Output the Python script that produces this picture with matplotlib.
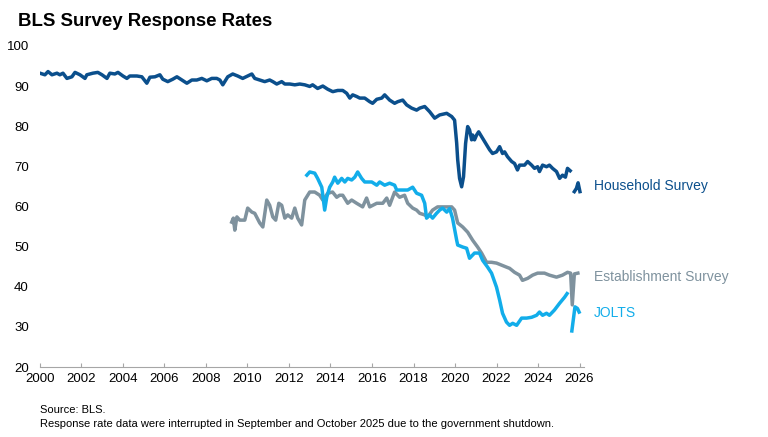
import matplotlib.pyplot as plt
import numpy as np

plt.rcParams["font.family"] = ["Liberation Sans", "DejaVu Sans"]

# Household Survey (NaN = shutdown gap)
hh_years = [2000.0, 2000.24, 2000.39, 2000.58, 2000.82, 2000.96, 2001.11, 2001.3, 2001.54, 2001.69,
            2001.93, 2002.17, 2002.26, 2002.55, 2002.79, 2002.99, 2003.23, 2003.37, 2003.61, 2003.76,
            2004.0, 2004.19, 2004.33, 2004.67, 2004.91, 2005.15, 2005.3, 2005.54, 2005.78, 2005.92,
            2006.16, 2006.4, 2006.6, 2006.84, 2007.08, 2007.32, 2007.56, 2007.8, 2008.04, 2008.28,
            2008.52, 2008.67, 2008.81, 2009.05, 2009.29, 2009.53, 2009.77, 2010.01, 2010.21, 2010.35,
            2010.59, 2010.83, 2011.07, 2011.22, 2011.41, 2011.65, 2011.8, 2012.04, 2012.28, 2012.52,
            2012.76, 2013.0, 2013.14, 2013.38, 2013.63, 2013.87, 2014.11, 2014.35, 2014.59, 2014.78,
            2014.93, 2015.07, 2015.26, 2015.41, 2015.65, 2015.89, 2016.03, 2016.23, 2016.47, 2016.61,
            2016.85, 2017.09, 2017.24, 2017.48, 2017.67, 2017.91, 2018.15, 2018.3, 2018.54, 2018.78,
            2019.02, 2019.26, 2019.6, 2019.84, 2019.98, 2020.08, 2020.13, 2020.22, 2020.32, 2020.41,
            2020.51, 2020.61, 2020.7, 2020.8, 2020.85, 2020.94, 2021.04, 2021.14, 2021.28, 2021.43,
            2021.52, 2021.67, 2021.81, 2022.0, 2022.15, 2022.29, 2022.39, 2022.53, 2022.73, 2022.87,
            2023.01, 2023.11, 2023.35, 2023.5, 2023.69, 2023.83, 2023.98, 2024.07, 2024.22, 2024.41,
            2024.55, 2024.7, 2024.89, 2025.04, 2025.18, 2025.32, 2025.42, 2025.55, 2025.65,
            2025.75, 2025.85, 2025.93, 2026.02]
hh_values = [93.2, 92.8, 93.6, 92.8, 93.2, 92.8, 93.2, 91.9, 92.3, 93.4,
             92.8, 91.9, 92.8, 93.2, 93.4, 92.8, 91.9, 93.2, 93.0, 93.4,
             92.5, 91.9, 92.5, 92.5, 92.3, 90.7, 92.2, 92.3, 92.8, 91.7,
             91.1, 91.7, 92.3, 91.5, 90.7, 91.5, 91.5, 91.9, 91.3, 91.9,
             91.9, 91.5, 90.3, 92.3, 93.0, 92.5, 91.9, 92.5, 93.0, 91.9,
             91.5, 91.1, 91.5, 91.1, 90.5, 91.1, 90.5, 90.5, 90.3, 90.5,
             90.3, 89.9, 90.3, 89.4, 90.0, 89.2, 88.6, 88.9, 88.9, 88.2,
             87.0, 87.8, 87.4, 87.0, 87.0, 86.1, 85.7, 86.7, 87.0, 87.8,
             86.5, 85.7, 86.1, 86.5, 85.3, 84.5, 84.0, 84.5, 84.9, 83.6,
             82.0, 82.8, 83.2, 82.4, 81.5, 75.8, 71.6, 67.0, 64.9, 67.4,
             75.7, 79.9, 79.1, 76.6, 77.8, 76.6, 77.8, 78.6, 77.4, 76.1,
             75.3, 74.1, 73.2, 73.6, 74.9, 73.2, 73.6, 72.4, 71.2, 70.7,
             69.1, 70.3, 70.3, 71.2, 70.3, 69.5, 69.9, 68.7, 70.3, 69.9,
             70.3, 69.5, 68.7, 67.0, 67.8, 67.3, 69.5, 68.9, np.nan,
             63.7, 64.5, 65.9, 63.7]

# Establishment Survey
es_years = [2009.24, 2009.32, 2009.39, 2009.49, 2009.63, 2009.87, 2010.01, 2010.21, 2010.35, 2010.59,
            2010.74, 2010.93, 2011.07, 2011.22, 2011.36, 2011.51, 2011.65, 2011.8, 2011.94, 2012.13,
            2012.28, 2012.42, 2012.61, 2012.76, 2013.0, 2013.24, 2013.48, 2013.63, 2013.87, 2014.1,
            2014.3, 2014.44, 2014.59, 2014.83, 2015.02, 2015.26, 2015.55, 2015.74, 2015.89, 2016.23,
            2016.52, 2016.71, 2016.85, 2017.09, 2017.33, 2017.57, 2017.72, 2017.96, 2018.15, 2018.3,
            2018.54, 2018.68, 2018.92, 2019.16, 2019.5, 2019.84, 2019.98, 2020.13, 2020.37, 2020.61,
            2020.85, 2021.09, 2021.28, 2021.52, 2021.76, 2022.0, 2022.24, 2022.48, 2022.63, 2022.87,
            2023.11, 2023.25, 2023.5, 2023.74, 2023.98, 2024.31, 2024.55, 2024.89, 2025.18, 2025.42,
            2025.57, 2025.65, 2025.75, 2025.92]
es_values = [56.1, 57.1, 54.1, 57.4, 56.6, 56.6, 59.6, 58.6, 58.3, 55.9,
             54.9, 61.6, 60.3, 57.4, 56.6, 60.8, 60.3, 57.1, 57.9, 57.1,
             59.6, 57.1, 55.4, 61.6, 63.6, 63.6, 62.8, 61.6, 63.3, 63.6,
             62.3, 62.8, 62.8, 60.8, 61.6, 60.8, 59.9, 62.1, 59.9, 60.8,
             60.8, 62.1, 60.3, 63.6, 62.3, 62.8, 60.8, 59.6, 59.1, 58.3,
             57.9, 57.4, 59.1, 59.9, 59.9, 59.9, 59.1, 55.9, 54.9, 53.6,
             51.6, 49.9, 48.4, 46.1, 46.1, 45.9, 45.4, 44.9, 44.6, 43.6,
             42.9, 41.6, 42.1, 42.9, 43.4, 43.4, 42.9, 42.4, 42.9, 43.6,
             43.4, 35.5, 43.2, 43.4]

# JOLTS
jo_years = [2012.86, 2013.0, 2013.24, 2013.38, 2013.58, 2013.72, 2013.82, 2013.96, 2014.11, 2014.2,
            2014.35, 2014.54, 2014.69, 2014.83, 2015.02, 2015.17, 2015.31, 2015.5, 2015.65, 2015.99,
            2016.23, 2016.37, 2016.61, 2016.85, 2017.09, 2017.19, 2017.48, 2017.72, 2017.96, 2018.15,
            2018.39, 2018.54, 2018.63, 2018.78, 2018.92, 2019.11, 2019.26, 2019.4, 2019.6, 2019.74,
            2019.88, 2020.08, 2020.13, 2020.37, 2020.56, 2020.7, 2020.94, 2021.18, 2021.33, 2021.57,
            2021.76, 2022.0, 2022.15, 2022.29, 2022.48, 2022.63, 2022.78, 2022.97, 2023.21, 2023.45,
            2023.69, 2023.93, 2024.07, 2024.22, 2024.41, 2024.55, 2024.79, 2025.04, 2025.28, 2025.4,
            2025.5, 2025.63, 2025.78, 2025.9, 2025.98]
jo_values = [67.8, 68.6, 68.3, 67.0, 64.8, 59.1, 62.3, 64.8, 66.1, 67.3,
             65.8, 67.0, 66.1, 67.0, 66.6, 67.3, 68.6, 67.0, 66.1, 66.1,
             65.3, 66.1, 65.3, 65.8, 65.3, 64.1, 64.1, 64.1, 64.8, 63.3,
             62.8, 60.8, 57.1, 57.9, 57.1, 58.3, 59.1, 59.6, 58.6, 59.5,
             57.1, 51.6, 50.4, 49.9, 49.6, 47.1, 48.4, 48.4, 46.6, 44.9,
             43.4, 39.9, 36.7, 33.4, 31.2, 30.4, 30.9, 30.4, 32.2, 32.2,
             32.4, 32.9, 33.7, 32.9, 33.4, 32.9, 34.2, 35.9, 37.4, 38.3,
             np.nan, 29.0, 35.0, 34.6, 33.7]

x_ticks = list(range(2000, 2027, 2))
y_ticks = list(range(20, 101, 10))

c_hh = "#0b4f8c"
c_es = "#7f929e"
c_jo = "#12adea"

fig = plt.figure(figsize=(7.68, 4.37), dpi=100)
ax = fig.add_axes([0.052, 0.16, 0.708, 0.735])

ax.plot(hh_years, hh_values, color=c_hh, lw=2.5, solid_joinstyle="round")
ax.plot(es_years, es_values, color=c_es, lw=2.5, solid_joinstyle="round")
ax.plot(jo_years, jo_values, color=c_jo, lw=2.5, solid_joinstyle="round")

ax.set_xlim(2000, 2026.2)
ax.set_ylim(20, 100)
ax.set_xticks(x_ticks)
ax.set_yticks(y_ticks)
ax.tick_params(axis="x", direction="in", length=3, color="#a6a6a6", labelsize=9.5, pad=4)
ax.tick_params(axis="y", length=0, labelsize=9.5, pad=8)
for s in ["top", "right", "left"]:
    ax.spines[s].set_visible(False)
ax.spines["bottom"].set_color("#a6a6a6")
ax.spines["bottom"].set_linewidth(0.8)

# series labels
fig.text(0.773, 1 - 186 / 437, "Household Survey", color=c_hh, fontsize=10, va="center")
fig.text(0.773, 1 - 277 / 437, "Establishment Survey", color=c_es, fontsize=10, va="center")
fig.text(0.773, 1 - 313 / 437, "JOLTS", color=c_jo, fontsize=10, va="center")

fig.text(0.023, 1 - 22 / 437, "BLS Survey Response Rates", fontsize=13.4, fontweight="bold", va="center")
fig.text(0.052, 1 - 410 / 437, "Source: BLS.", fontsize=8, va="center")
fig.text(0.052, 1 - 424 / 437,
         "Response rate data were interrupted in September and October 2025 due to the government shutdown.",
         fontsize=8, va="center")

plt.savefig("out.png", dpi=100)
